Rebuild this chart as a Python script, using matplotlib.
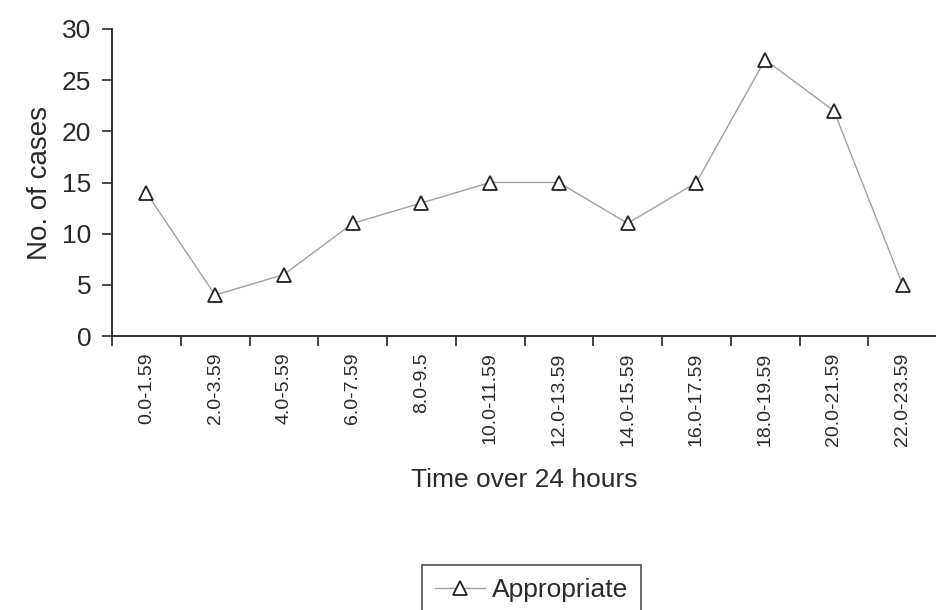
import matplotlib
matplotlib.use("Agg")
import matplotlib.pyplot as plt
import numpy as np

plt.rcParams["font.family"] = ["Liberation Sans", "DejaVu Sans"]

time_bins = ["0.0-1.59", "2.0-3.59", "4.0-5.59", "6.0-7.59", "8.0-9.5",
             "10.0-11.59", "12.0-13.59", "14.0-15.59", "16.0-17.59",
             "18.0-19.59", "20.0-21.59", "22.0-23.59"]
appropriate = [14, 4, 6, 11, 13, 15, 15, 11, 15, 27, 22, 5]
y_ticks = [0, 5, 10, 15, 20, 25, 30]

W, H = 936, 610
fig = plt.figure(figsize=(W / 100, H / 100), dpi=100)
ax = fig.add_axes([112 / W, 1 - 336 / H, (937 - 112) / W, (336 - 29) / H])

x = np.arange(len(time_bins))
ax.plot(x, appropriate, color="#a0a0a0", linewidth=1.0, marker="^",
        markersize=10, markerfacecolor="white", markeredgecolor="#222222",
        markeredgewidth=1.3, label="Appropriate", clip_on=False)

ax.set_xlim(-0.5, len(time_bins) - 0.5)
ax.set_ylim(0, 30)
ax.set_yticks(y_ticks)
ax.set_xticks(x)
ax.set_xticklabels(time_bins, rotation=90, fontsize=14, color="#2a2a2a")
ax.set_xticks(np.arange(len(time_bins)) - 0.5, minor=True)
ax.tick_params(axis="x", which="major", length=0, pad=12)
ax.tick_params(axis="x", which="minor", length=7, width=1.2, color="#222222")
ax.tick_params(axis="y", length=7, width=1.2, labelsize=19, colors="#2a2a2a", pad=8)

for s in ["top", "right"]:
    ax.spines[s].set_visible(False)
for s in ["left", "bottom"]:
    ax.spines[s].set_color("#222222")
    ax.spines[s].set_linewidth(1.3)

ax.set_ylabel("No. of cases", fontsize=20, color="#2a2a2a", labelpad=6)
ax.set_xlabel("Time over 24 hours", fontsize=19, color="#2a2a2a", labelpad=16)

leg = fig.legend(loc="upper left", bbox_to_anchor=(422 / W, 1 - 565 / H),
                 borderaxespad=0, fontsize=19, frameon=True, fancybox=False,
                 handlelength=1.9, handletextpad=0.25, borderpad=0.5)
leg.get_frame().set_edgecolor("#222222")
leg.get_frame().set_linewidth(1.2)
for t in leg.get_texts():
    t.set_color("#2a2a2a")

fig.savefig("out.png", dpi=100)
